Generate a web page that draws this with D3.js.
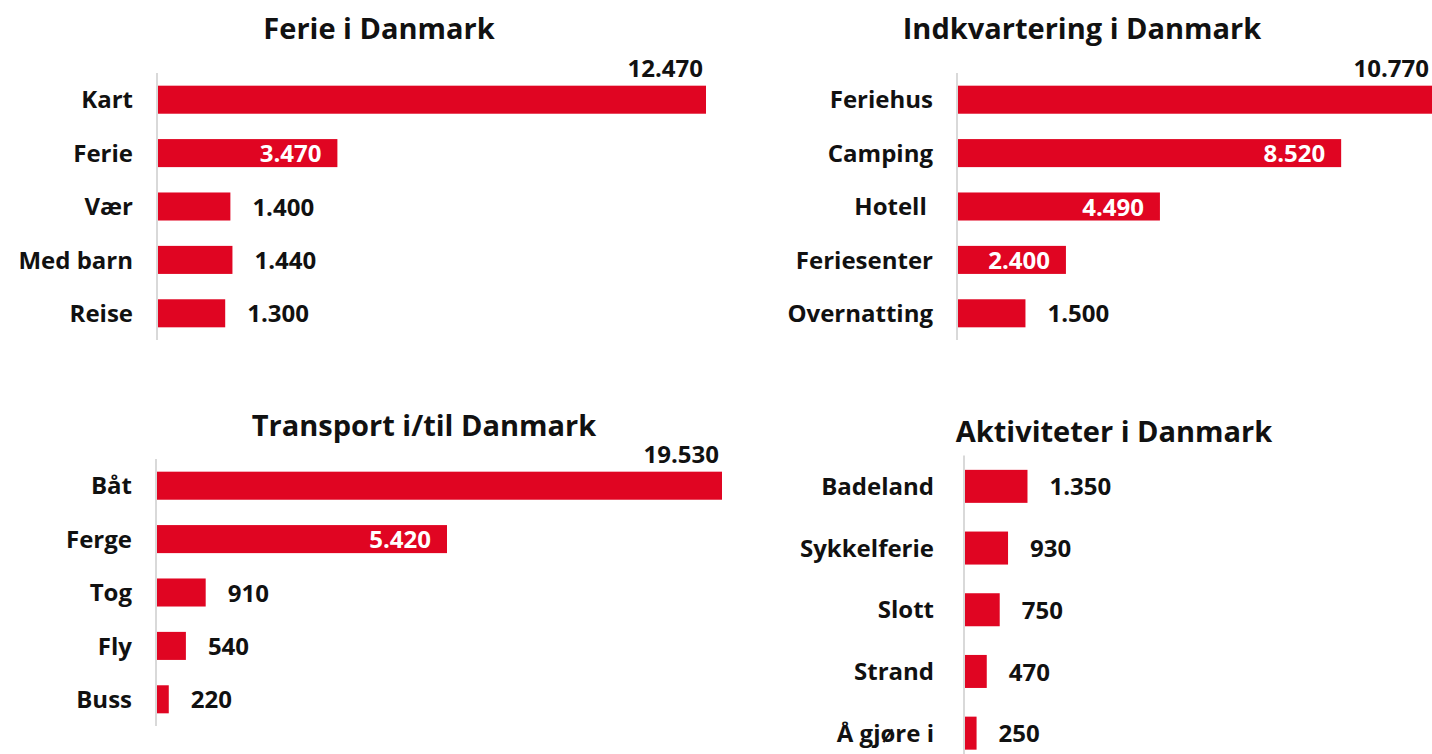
<!DOCTYPE html>
<html>
  <head>
    <meta charset="utf-8">
    <title>Danmark</title>
    <script src="https://cdn.jsdelivr.net/npm/d3@7"></script>
    <style>
      body { margin: 0; background: #fff; }
      #chart { display: block; font-family: "Open Sans", sans-serif; }
      .title { font-size: 29px; font-weight: 700; fill: #111; text-anchor: middle; }
      .cat { font-size: 24px; font-weight: 700; fill: #111; text-anchor: end; white-space: pre; }
      .val { font-size: 24px; font-weight: 700; fill: #111; }
      .val.inside { fill: #fff; }
      .bar { fill: #e00522; }
      .axisLine { stroke: #d9d9d9; stroke-width: 2; }
    </style>
  </head>

  <body>
    <svg id="chart" width="1432" height="754"></svg>

    <script>
      // data
      ferieCats = ["Kart", "Ferie", "Vær", "Med barn", "Reise"];
      ferieValues = [12470, 3470, 1400, 1440, 1300];

      indkvCats = ["Feriehus", "Camping", "Hotell ", "Feriesenter", "Overnatting"];
      indkvValues = [10770, 8520, 4490, 2400, 1500];

      transportCats = ["Båt", "Ferge", "Tog", "Fly", "Buss"];
      transportValues = [19530, 5420, 910, 540, 220];

      aktivCats = ["Badeland", "Sykkelferie", "Slott", "Strand", "Å gjøre i"];
      aktivValues = [1350, 930, 750, 470, 250];

      titles = ["Ferie i Danmark", "Indkvartering i Danmark", "Transport i/til Danmark", "Aktiviteter i Danmark"];

      // page elements
      chart = d3.select("#chart");
      fmt = d3.formatLocale({ decimal: ",", thousands: ".", grouping: [3], currency: ["", ""] }).format(",");

      panels = [
        { title: titles[0], cats: ferieCats, values: ferieValues, labelGap: 24,
          titleX: 379, titleY: 39, axisX: 157, yRange: [73, 340], xMax: 706, domainMax: 10600, pad: 0.475 },
        { title: titles[1], cats: indkvCats, values: indkvValues, labelGap: 24,
          titleX: 1082, titleY: 39, axisX: 957, yRange: [73, 340], xMax: 1432, domainMax: 10540, pad: 0.475 },
        { title: titles[2], cats: transportCats, values: transportValues, labelGap: 24,
          titleX: 424, titleY: 436, axisX: 156, yRange: [459, 726], xMax: 722, domainMax: 10560, pad: 0.475 },
        { title: titles[3], cats: aktivCats, values: aktivValues, labelGap: 30,
          titleX: 1114, titleY: 442, axisX: 964, yRange: [455.5, 764], xMax: 1432, domainMax: 10090, pad: 0.465 }
      ];

      panels.forEach(function(p) {
        g = chart.append("g");
        data = p.cats.map(function(c, i) {
          return { cat: c, value: p.values[i] };
        });

        y = d3.scaleBand()
          .domain(p.cats)
          .range(p.yRange)
          .paddingInner(p.pad)
          .paddingOuter(p.pad / 2);
        x = d3.scaleLinear()
          .domain([0, p.domainMax])
          .range([p.axisX + 1, p.xMax])
          .clamp(true);

        // where does the label go? above a cut-off bar, inside a long one, else after it
        function place(d) {
          if (d.value > p.domainMax) return "above";
          return d.value >= 2000 ? "inside" : "after";
        }

        g.append("text")
          .attr("class", "title")
          .attr("x", p.titleX)
          .attr("y", p.titleY)
          .text(p.title);

        // bars
        g.selectAll(".bar")
          .data(data)
          .join("rect")
            .attr("class", "bar")
            .attr("x", x(0))
            .attr("y", function(d) { return y(d.cat); })
            .attr("width", function(d) { return x(d.value) - x(0); })
            .attr("height", y.bandwidth());

        // axis line
        g.append("line")
          .attr("class", "axisLine")
          .attr("x1", p.axisX)
          .attr("x2", p.axisX)
          .attr("y1", p.yRange[0])
          .attr("y2", Math.min(p.yRange[1], 754));

        // category labels
        g.selectAll(".cat")
          .data(data)
          .join("text")
            .attr("class", "cat")
            .attr("x", p.axisX - p.labelGap)
            .attr("y", function(d) { return y(d.cat) + y.bandwidth() / 2; })
            .attr("dy", "0.36em")
            .text(function(d) { return d.cat; });

        // value labels
        g.selectAll(".val")
          .data(data)
          .join("text")
            .attr("class", function(d) {
              return place(d) == "inside" ? "val inside" : "val";
            })
            .attr("text-anchor", function(d) {
              return place(d) == "after" ? "start" : "end";
            })
            .attr("x", function(d) {
              if (place(d) == "above") return x(d.value) - 3;
              return place(d) == "inside" ? x(d.value) - 16 : x(d.value) + 22;
            })
            .attr("y", function(d) {
              if (place(d) == "above") return y(d.cat) - 9;
              return y(d.cat) + y.bandwidth() / 2;
            })
            .attr("dy", function(d) {
              return place(d) == "above" ? 0 : "0.38em";
            })
            .text(function(d) { return fmt(d.value); });
      });
    </script>
  </body>
</html>
